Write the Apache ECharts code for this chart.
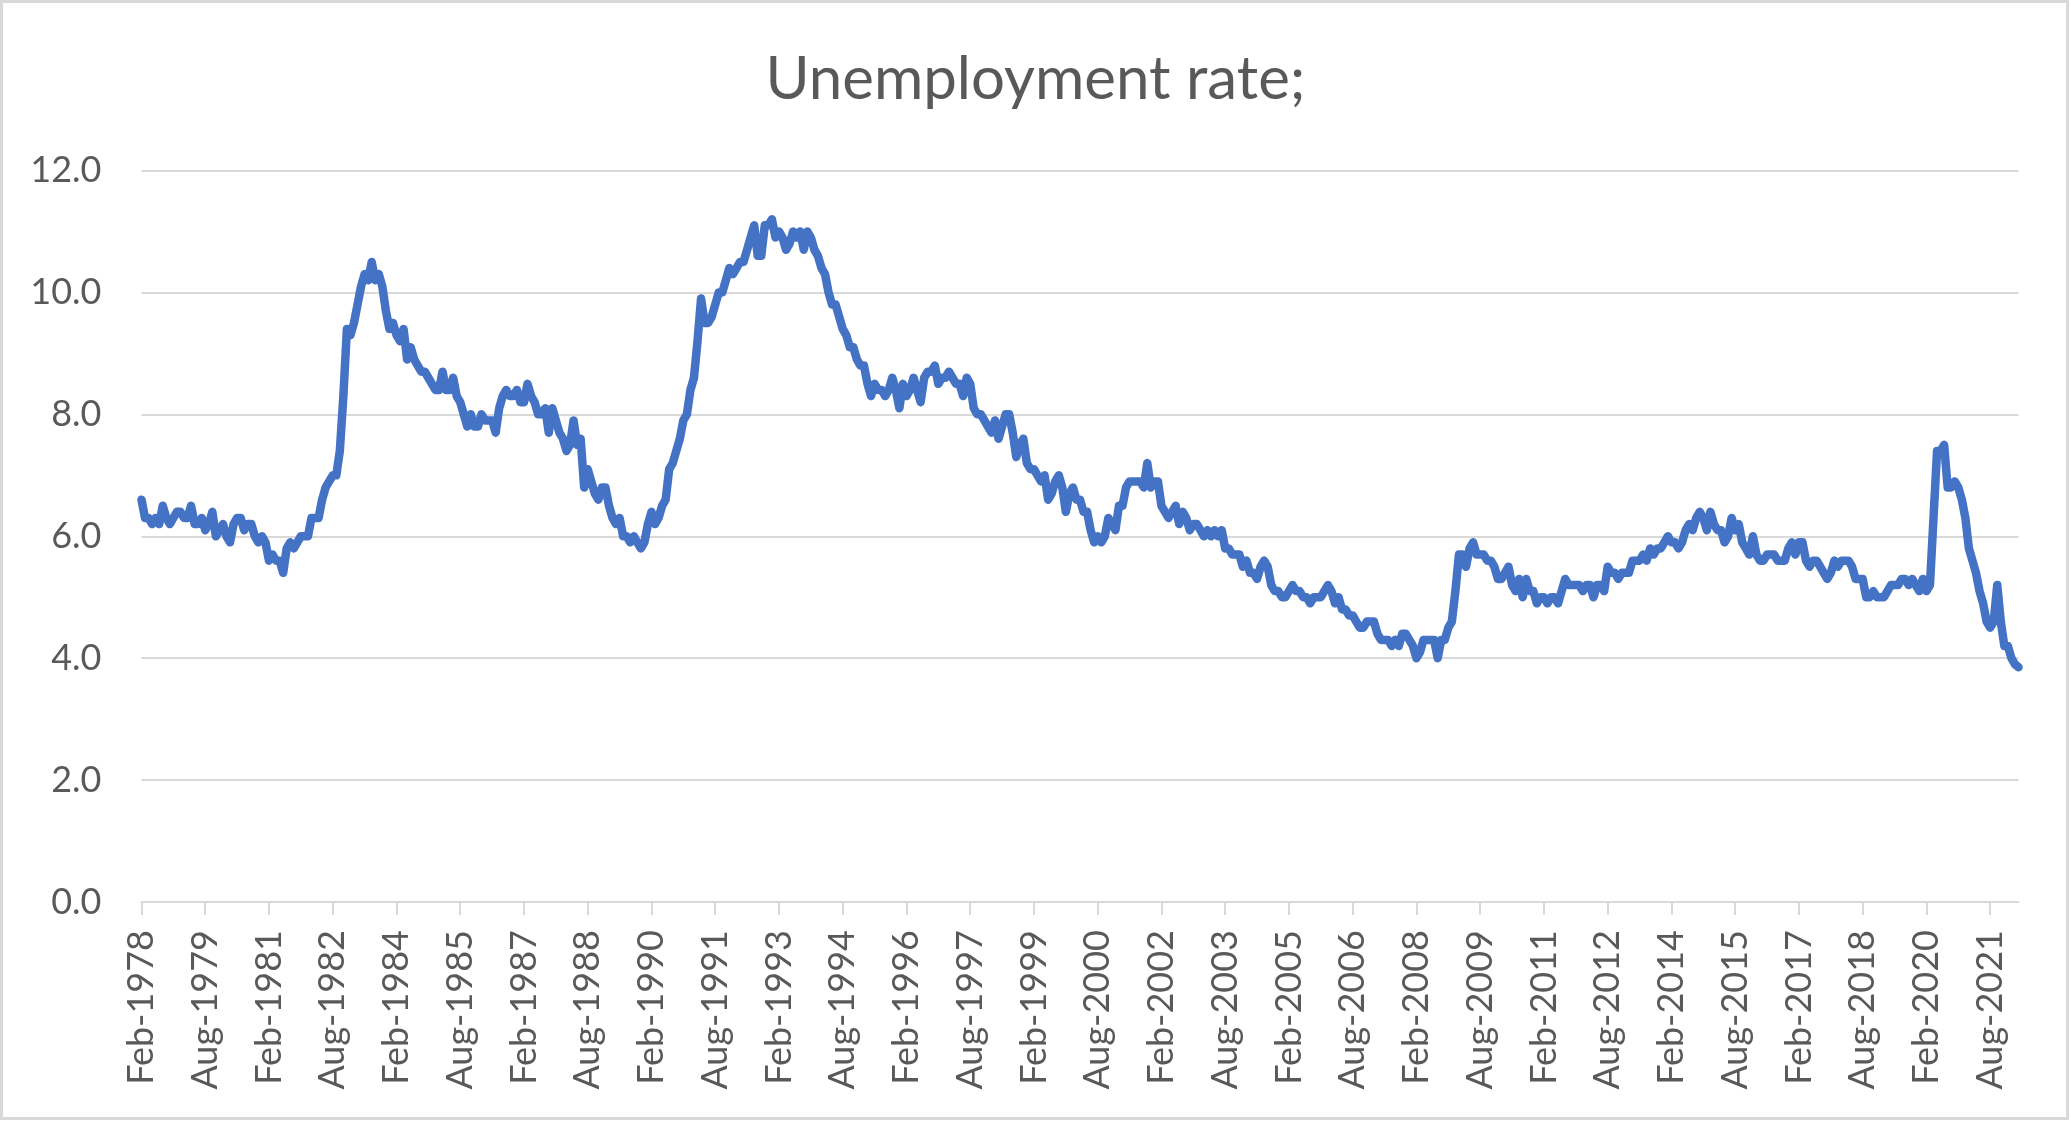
<!DOCTYPE html>
<html>
<head>
<meta charset="utf-8">
<script src="https://cdn.jsdelivr.net/npm/echarts/dist/echarts.min.js"></script>
<style>
  html, body { margin: 0; padding: 0; background: #ffffff; }
  #chart { width: 2071px; height: 1121px; }
</style>
</head>
<body>
<div id="chart"></div>
<script>
// Monthly unemployment rate (%), Feb-1978 .. Apr-2022 (each row: Feb..Jan)
const startYear = 1978;
const startMonthIndex = 1; // Feb
const monthNames = ['Jan','Feb','Mar','Apr','May','Jun','Jul','Aug','Sep','Oct','Nov','Dec'];

const rates1978to1987 = [
  6.6, 6.3, 6.3, 6.2, 6.3, 6.2, 6.5, 6.3, 6.2, 6.3, 6.4, 6.4,
  6.3, 6.3, 6.5, 6.2, 6.2, 6.3, 6.1, 6.2, 6.4, 6.0, 6.1, 6.2,
  6.0, 5.9, 6.2, 6.3, 6.3, 6.1, 6.2, 6.2, 6.0, 5.9, 6.0, 5.9,
  5.6, 5.7, 5.6, 5.6, 5.4, 5.8, 5.9, 5.8, 5.9, 6.0, 6.0, 6.0,
  6.3, 6.3, 6.3, 6.6, 6.8, 6.9, 7.0, 7.0, 7.4, 8.3, 9.4, 9.3,
  9.5, 9.8, 10.1, 10.3, 10.2, 10.5, 10.2, 10.3, 10.1, 9.7, 9.4, 9.5,
  9.3, 9.2, 9.4, 8.9, 9.1, 8.9, 8.8, 8.7, 8.7, 8.6, 8.5, 8.4,
  8.4, 8.7, 8.4, 8.4, 8.6, 8.3, 8.2, 8.0, 7.8, 8.0, 7.8, 7.8,
  8.0, 7.9, 7.9, 7.9, 7.7, 8.1, 8.3, 8.4, 8.3, 8.3, 8.4, 8.2,
  8.2, 8.5, 8.3, 8.2, 8.0, 8.0, 8.1, 7.7, 8.1, 7.9, 7.7, 7.6
];
const rates1988to1997 = [
  7.4, 7.5, 7.9, 7.5, 7.6, 6.8, 7.1, 6.9, 6.7, 6.6, 6.8, 6.8,
  6.5, 6.3, 6.2, 6.3, 6.0, 6.0, 5.9, 6.0, 5.9, 5.8, 5.9, 6.2,
  6.4, 6.2, 6.3, 6.5, 6.6, 7.1, 7.2, 7.4, 7.6, 7.9, 8.0, 8.4,
  8.6, 9.2, 9.9, 9.5, 9.5, 9.6, 9.8, 10.0, 10.0, 10.2, 10.4, 10.3,
  10.4, 10.5, 10.5, 10.7, 10.9, 11.1, 10.6, 10.6, 11.1, 11.1, 11.2, 10.9,
  11.0, 10.9, 10.7, 10.8, 11.0, 10.9, 11.0, 10.7, 11.0, 10.9, 10.7, 10.6,
  10.4, 10.3, 10.0, 9.8, 9.8, 9.6, 9.4, 9.3, 9.1, 9.1, 8.9, 8.8,
  8.8, 8.5, 8.3, 8.5, 8.4, 8.4, 8.3, 8.4, 8.6, 8.4, 8.1, 8.5,
  8.3, 8.4, 8.6, 8.4, 8.2, 8.6, 8.7, 8.7, 8.8, 8.5, 8.6, 8.6,
  8.7, 8.6, 8.5, 8.5, 8.3, 8.6, 8.5, 8.1, 8.0, 8.0, 7.9, 7.8
];
const rates1998to2007 = [
  7.7, 7.9, 7.6, 7.8, 8.0, 8.0, 7.7, 7.3, 7.5, 7.6, 7.2, 7.1,
  7.1, 7.0, 6.9, 7.0, 6.6, 6.7, 6.9, 7.0, 6.8, 6.4, 6.7, 6.8,
  6.6, 6.6, 6.4, 6.4, 6.1, 5.9, 6.0, 5.9, 6.0, 6.3, 6.2, 6.1,
  6.5, 6.5, 6.8, 6.9, 6.9, 6.9, 6.9, 6.8, 7.2, 6.8, 6.9, 6.9,
  6.5, 6.4, 6.3, 6.4, 6.5, 6.2, 6.4, 6.3, 6.1, 6.2, 6.2, 6.1,
  6.0, 6.1, 6.0, 6.1, 6.0, 6.1, 5.8, 5.8, 5.7, 5.7, 5.7, 5.5,
  5.6, 5.4, 5.4, 5.3, 5.5, 5.6, 5.5, 5.2, 5.1, 5.1, 5.0, 5.0,
  5.1, 5.2, 5.1, 5.1, 5.0, 5.0, 4.9, 5.0, 5.0, 5.0, 5.1, 5.2,
  5.1, 4.9, 5.0, 4.8, 4.8, 4.7, 4.7, 4.6, 4.5, 4.5, 4.6, 4.6,
  4.6, 4.4, 4.3, 4.3, 4.3, 4.2, 4.3, 4.2, 4.4, 4.4, 4.3, 4.2
];
const rates2008to2017 = [
  4.0, 4.1, 4.3, 4.3, 4.3, 4.3, 4.0, 4.3, 4.3, 4.5, 4.6, 5.1,
  5.7, 5.7, 5.5, 5.8, 5.9, 5.7, 5.7, 5.7, 5.6, 5.6, 5.5, 5.3,
  5.3, 5.4, 5.5, 5.2, 5.1, 5.3, 5.0, 5.3, 5.1, 5.1, 4.9, 5.0,
  5.0, 4.9, 5.0, 5.0, 4.9, 5.1, 5.3, 5.2, 5.2, 5.2, 5.2, 5.1,
  5.2, 5.2, 5.0, 5.2, 5.2, 5.1, 5.5, 5.4, 5.4, 5.3, 5.4, 5.4,
  5.4, 5.6, 5.6, 5.6, 5.7, 5.6, 5.8, 5.7, 5.8, 5.8, 5.9, 6.0,
  5.9, 5.9, 5.8, 5.9, 6.1, 6.2, 6.1, 6.3, 6.4, 6.3, 6.1, 6.4,
  6.2, 6.1, 6.1, 5.9, 6.0, 6.3, 6.1, 6.2, 5.9, 5.8, 5.7, 6.0,
  5.7, 5.6, 5.6, 5.7, 5.7, 5.7, 5.6, 5.6, 5.6, 5.8, 5.9, 5.7,
  5.9, 5.9, 5.6, 5.5, 5.6, 5.6, 5.5, 5.4, 5.3, 5.4, 5.6, 5.5
];
const rates2018to2022 = [
  5.6, 5.6, 5.6, 5.5, 5.3, 5.3, 5.3, 5.0, 5.0, 5.1, 5.0, 5.0,
  5.0, 5.1, 5.2, 5.2, 5.2, 5.3, 5.3, 5.2, 5.3, 5.2, 5.1, 5.3,
  5.1, 5.2, 6.3, 7.4, 7.4, 7.5, 6.8, 6.8, 6.9, 6.8, 6.6, 6.3,
  5.8, 5.6, 5.4, 5.1, 4.9, 4.6, 4.5, 4.6, 5.2, 4.6, 4.2, 4.2,
  4.0, 3.9, 3.85
];

const yAxisMin = 0, yAxisMax = 12, yAxisStep = 2;
const labelEvery = 18; // months between category labels

const rates = [].concat(rates1978to1987, rates1988to1997, rates1998to2007, rates2008to2017, rates2018to2022);
const months = rates.map(function (_, i) {
  const t = startMonthIndex + i;
  return monthNames[t % 12] + '-' + (startYear + Math.floor(t / 12));
});

const textColor = '#595959';
const gridColor = '#d9d9d9';
const fontFamily = 'Lato, "Open Sans", sans-serif';

const chart = echarts.init(document.getElementById('chart'), null, { renderer: 'canvas' });
chart.setOption({
  animation: false,
  backgroundColor: '#ffffff',
  graphic: [
    {
      type: 'rect', silent: true, z: 100,
      shape: { x: 1.5, y: 1.5, width: 2066, height: 1117 },
      style: { fill: 'none', stroke: gridColor, lineWidth: 3 }
    },
    {
      type: 'text', silent: true,
      x: 1035.5, y: 80,
      style: {
        text: 'Unemployment rate;',
        fill: textColor,
        font: '60px ' + fontFamily,
        align: 'center',
        verticalAlign: 'middle'
      }
    }
  ],
  grid: { left: 141.5, right: 52.5, top: 170.5, bottom: 219, containLabel: false },
  xAxis: {
    type: 'category',
    data: months,
    boundaryGap: false,
    axisLine: { show: true, lineStyle: { color: gridColor, width: 2 } },
    axisTick: { show: true, interval: labelEvery - 1, length: 13, lineStyle: { color: gridColor, width: 2 } },
    axisLabel: {
      interval: labelEvery - 1,
      rotate: 90,
      margin: 28,
      color: textColor,
      fontFamily: fontFamily,
      fontSize: 36,
      hideOverlap: false
    },
    splitLine: { show: false }
  },
  yAxis: {
    type: 'value',
    min: yAxisMin, max: yAxisMax, interval: yAxisStep,
    axisLine: { show: false },
    axisTick: { show: false },
    axisLabel: {
      margin: 40,
      color: textColor,
      fontFamily: fontFamily,
      fontSize: 36,
      formatter: function (v) { return v.toFixed(1); }
    },
    splitLine: { show: true, lineStyle: { color: gridColor, width: 2 } }
  },
  series: [{
    type: 'line',
    data: rates,
    showSymbol: false,
    symbol: 'none',
    smooth: false,
    lineStyle: { color: '#4472C4', width: 8.5, cap: 'round', join: 'round' },
    z: 3
  }]
});
</script>
</body>
</html>
